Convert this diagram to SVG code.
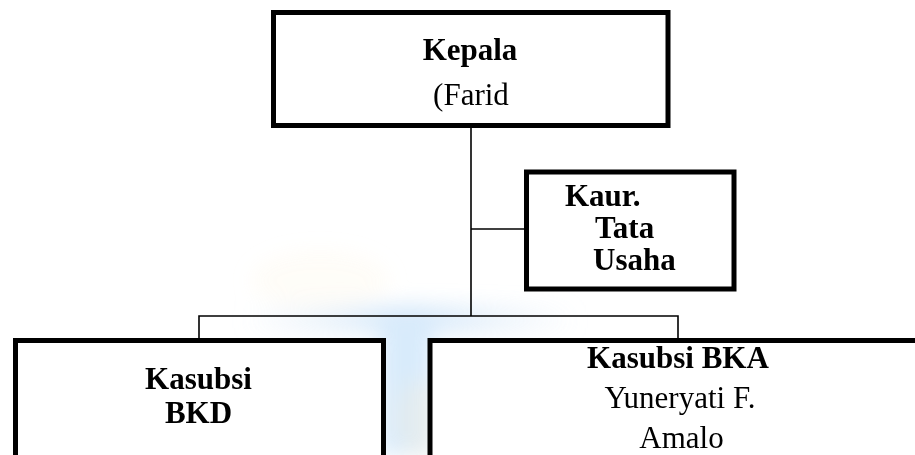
<svg xmlns="http://www.w3.org/2000/svg" width="915" height="455" viewBox="0 0 915 455">
<style>
.box{fill:#fff;stroke:#000;stroke-width:5}
.ln{fill:none;stroke:#000;stroke-width:1.6}
text{font-family:"Liberation Serif","Times New Roman",serif;font-size:31px;fill:#000}
.b{font-weight:bold}
</style>
<defs>
<filter id="blur" x="-50%" y="-50%" width="200%" height="200%"><feGaussianBlur stdDeviation="10"/></filter>
<linearGradient id="wm" x1="0" y1="0" x2="1" y2="0">
<stop offset="0" stop-color="#dbe9f7" stop-opacity="0"/>
<stop offset="0.5" stop-color="#c9e2f8"/>
<stop offset="1" stop-color="#dbe9f7" stop-opacity="0"/>
</linearGradient>
</defs>
<rect width="915" height="455" fill="#fff"/>
<g id="watermark" filter="url(#blur)" opacity="0.8">
<rect x="240" y="305" width="340" height="30" fill="url(#wm)"/>
<rect x="380" y="320" width="52" height="135" fill="#cfe6fa"/>
<ellipse cx="320" cy="280" rx="70" ry="30" fill="#fdf6e0" opacity="0.3"/>
<ellipse cx="420" cy="420" rx="25" ry="40" fill="#fbeccc" opacity="0.3"/>
</g>
<g id="connectors">
<line class="ln" x1="471" y1="127" x2="471" y2="316"/>
<line class="ln" x1="471" y1="229" x2="525" y2="229"/>
<polyline class="ln" points="199,339 199,316 678,316 678,339"/>
</g>
<g id="kepala">
<rect class="box" x="273.5" y="12.5" width="394.5" height="113"/>
<text class="b" x="470" y="60" text-anchor="middle">Kepala</text>
<text x="471" y="105" text-anchor="middle">(Farid</text>
</g>
<g id="kaur">
<rect class="box" x="526.5" y="172" width="207.5" height="117"/>
<text class="b" x="565" y="206">Kaur.</text>
<text class="b" x="595" y="238">Tata</text>
<text class="b" x="593" y="270">Usaha</text>
</g>
<g id="bkd">
<rect class="box" x="15.5" y="340.5" width="368" height="130"/>
<text class="b" x="198.5" y="389" text-anchor="middle">Kasubsi</text>
<text class="b" x="198.5" y="423" text-anchor="middle">BKD</text>
</g>
<g id="bka">
<rect class="box" x="430" y="340.5" width="500" height="130"/>
<text class="b" x="678" y="368" text-anchor="middle">Kasubsi BKA</text>
<text x="680" y="408" text-anchor="middle">Yuneryati F.</text>
<text x="681.5" y="448" text-anchor="middle">Amalo</text>
</g>
</svg>
